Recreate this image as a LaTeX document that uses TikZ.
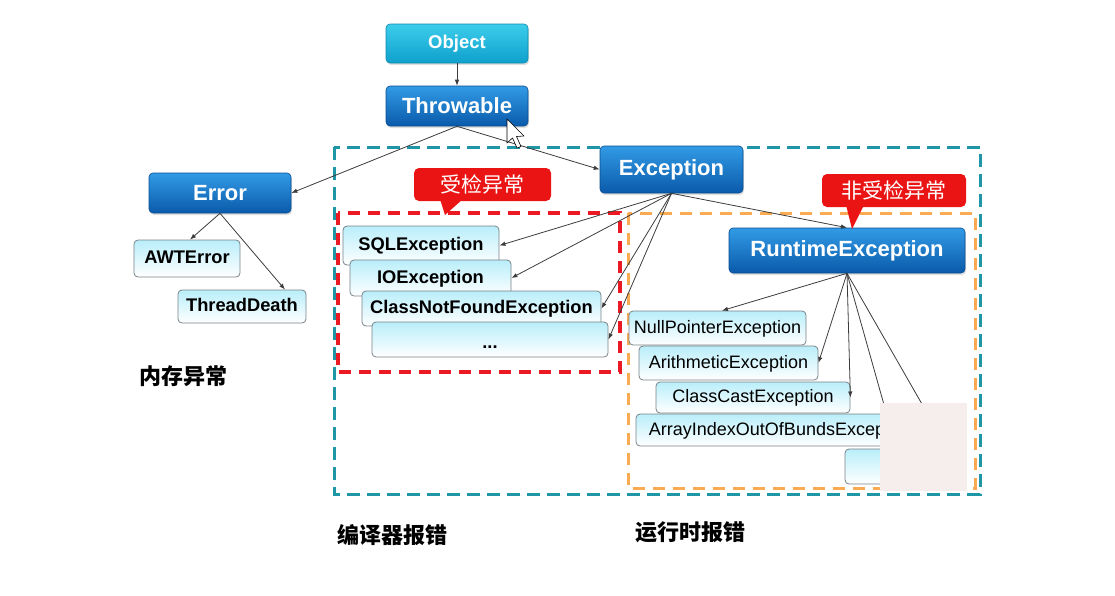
\documentclass[tikz,border=0pt]{standalone}
\usepackage{fontspec}
\setmainfont{Liberation Sans}
\newfontfamily\cjk{Noto Sans CJK SC}
\usetikzlibrary{arrows.meta,shadows}

\definecolor{tealline}{RGB}{30,150,165}
\definecolor{redline}{RGB}{235,25,35}
\definecolor{orangeline}{RGB}{250,170,80}
\definecolor{bluetop}{RGB}{50,155,230}
\definecolor{bluebot}{RGB}{10,90,170}
\definecolor{cyantop}{RGB}{60,205,235}
\definecolor{cyanbot}{RGB}{15,160,205}
\definecolor{lighttop}{RGB}{185,238,250}
\definecolor{boxedge}{RGB}{120,130,135}
\definecolor{tagred}{RGB}{235,20,20}
\definecolor{veil}{RGB}{246,237,237}
\definecolor{wire}{RGB}{60,60,60}

\begin{document}
\begin{tikzpicture}[x=1pt,y=-1pt,
  bluebox/.style={rounded corners=4pt, draw=bluebot!85!black, line width=0.6pt,
    top color=bluetop, bottom color=bluebot, text=white, inner sep=0pt,
    font=\fontsize{22}{24}\selectfont\bfseries,
    drop shadow={opacity=0.25, shadow xshift=1pt, shadow yshift=-2pt}},
  cyanbox/.style={bluebox, draw=cyanbot!85!black, top color=cyantop, bottom color=cyanbot,
    font=\fontsize{18.5}{20}\selectfont\bfseries},
  lightbox/.style={rounded corners=4pt, draw=boxedge, line width=0.8pt,
    top color=lighttop, middle color=white, bottom color=white, text=black, inner sep=0pt,
    text height=13pt, text depth=3pt},
  boldbox/.style={lightbox, font=\fontsize{18.3}{20}\selectfont\bfseries},
  plainbox/.style={lightbox, font=\fontsize{18}{20}\selectfont},
  wirearrow/.style={draw=wire, line width=0.8pt, -{Latex[length=6pt,width=4.5pt]}},
  tag/.style={rounded corners=5pt, fill=tagred, text=white, inner sep=0pt,
    font=\cjk\fontsize{21}{24}\selectfont},
  note/.style={text=black, inner sep=0pt, font=\cjk\bfseries\fontsize{22}{24}\selectfont}
]
\useasboundingbox (0,0) rectangle (1115,595);

% dashed group frames
\draw[tealline, line width=3pt, dash pattern=on 13pt off 7pt] (334,147) rectangle (980,494);
\draw[redline, line width=3.5pt, dash pattern=on 12pt off 8pt] (338,213) rectangle (620,372);
\draw[orangeline, line width=3pt, dash pattern=on 12pt off 8pt] (628,213) rectangle (975,488);

% class hierarchy nodes
\node[cyanbox, minimum width=142pt, minimum height=39pt] (obj) at (457,43.5) {Object};
\node[bluebox, minimum width=142pt, minimum height=40pt] (thr) at (457,106) {Throwable};
\node[bluebox, minimum width=142pt, minimum height=40pt] (err) at (220,193) {Error};
\node[bluebox, minimum width=143pt, minimum height=47pt] (exc) at (671.5,169.5) {Exception};
\node[bluebox, minimum width=236pt, minimum height=45pt] (rte) at (847,250.5) {RuntimeException};

\node[boldbox, minimum width=106pt, minimum height=37pt] (awt) at (187,258.5) {AWTError};
\node[boldbox, minimum width=128pt, minimum height=33pt] (td) at (242,306.5) {ThreadDeath};

\node[boldbox, minimum width=156pt, minimum height=39pt] (sql) at (421,245.5) {SQLException};
\node[boldbox, minimum width=161pt, minimum height=36pt] (io) at (430.5,278) {IOException};
\node[boldbox, minimum width=239pt, minimum height=35pt] (cnf) at (481.5,308.5) {ClassNotFoundException};
\node[boldbox, minimum width=236pt, minimum height=35pt] (dots) at (490,339.5) {\raisebox{-4pt}{...}};

\node[plainbox, minimum width=177pt, minimum height=34pt] (npe) at (717.5,328) {NullPointerException};
\node[plainbox, minimum width=179pt, minimum height=34pt] (ari) at (728.5,363) {ArithmeticException};
\node[plainbox, minimum width=194pt, minimum height=31pt] (cce) at (753,397.5) {ClassCastException};
\node[plainbox, minimum width=291pt, minimum height=32pt] (aio) at (781.5,430) {ArrayIndexOutOfBundsException};
\node[plainbox, minimum width=115pt, minimum height=35pt] (last) at (902.5,466.5) {};

% inheritance connectors
\draw[wirearrow] (obj.south) -- (thr.north);
\draw[wirearrow] (thr.south) -- (err.east);
\draw[wirearrow] (thr.south) -- (exc.west);
\draw[wirearrow] (exc.south) -- (rte.north);
\draw[wirearrow] (exc.south) -- (sql.east);
\draw[wirearrow] (exc.south) -- (io.east);
\draw[wirearrow] (exc.south) -- (cnf.east);
\draw[wirearrow] (exc.south) -- (dots.east);
\draw[wirearrow] (err.south) -- ([xshift=3pt]awt.north);
\draw[wirearrow] (err.south) -- ([xshift=43pt]td.north);
\draw[wirearrow] (rte.south) -- ([xshift=4.5pt]npe.north);
\draw[wirearrow] (rte.south) -- (ari.east);
\draw[wirearrow] (rte.south) -- (cce.east);
\draw[wirearrow] (rte.south) -- ([xshift=105pt]aio.north);
\draw[wirearrow] (rte.south) -- ([xshift=45pt]last.north);

% patch covering the lower right corner
\fill[veil] (880,403) rectangle (967,491);

% callout tags
\node[tag, minimum width=137pt, minimum height=33pt] (tagA) at (482.5,184.5) {受检异常};
\fill[tagred] (440,199) -- (463,199) -- (445,215) -- cycle;
\node[tag, minimum width=144pt, minimum height=33pt] (tagB) at (894,190.5) {非受检异常};
\fill[tagred] (846,205) -- (864,205) -- (852,229) -- cycle;

% mouse pointer
\draw[fill=white, line width=0.6pt, line join=round]
  (507,119) -- (507,143) -- (512.5,138) -- (517,148) -- (521,146.5) -- (516.5,136.5) -- (524,136) -- cycle;

% captions
\node[note] (memlbl) at (183.5,376) {内存异常};
\node[note] (cmplbl) at (392.5,535.5) {编译器报错};
\node[note] (runlbl) at (690,532.5) {运行时报错};
\end{tikzpicture}
\end{document}
